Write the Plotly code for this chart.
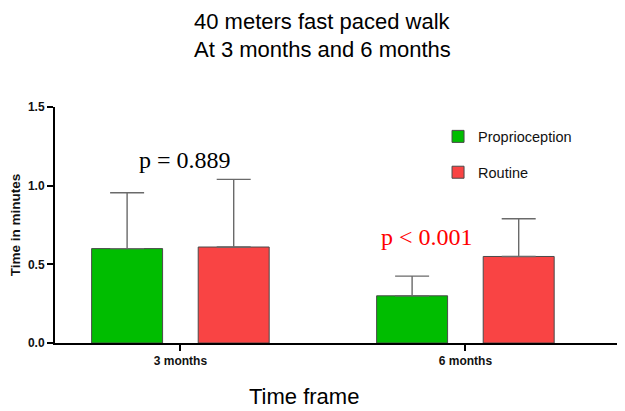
import plotly.graph_objects as go

groups = [0, 1]
group_labels = ["3 months", "6 months"]
proprio_mean = [0.60, 0.30]
proprio_err = [0.355, 0.125]
routine_mean = [0.61, 0.55]
routine_err = [0.43, 0.24]
y_ticks = [0.0, 0.5, 1.0, 1.5]

GREEN = "#00BD00"
RED = "#F94444"
FONT = "Liberation Sans"

fig = go.Figure()
fig.add_trace(go.Bar(
    x=groups, y=proprio_mean, name="Proprioception", legendgroup="a",
    width=0.249, offset=-0.3115,
    marker=dict(color=GREEN, line=dict(color="#4a4a4a", width=1)),
    error_y=dict(type="data", array=proprio_err, arrayminus=[0, 0], symmetric=False,
                 color="#6a6a6a", thickness=1.4, width=17),
))
fig.add_trace(go.Bar(
    x=groups, y=routine_mean, name="Routine", legendgroup="b",
    width=0.249, offset=0.0625,
    marker=dict(color=RED, line=dict(color="#4a4a4a", width=1)),
    error_y=dict(type="data", array=routine_err, arrayminus=[0, 0], symmetric=False,
                 color="#6a6a6a", thickness=1.4, width=17),
))

# page body has an 8px default margin, so the figure is sized to fill the rest
fig.update_layout(
    width=617, height=403,
    margin=dict(l=47, r=0, t=99, b=68, autoexpand=False),
    plot_bgcolor="white", paper_bgcolor="white",
    font=dict(family=FONT, color="black"),
    showlegend=True,
    legend=dict(x=0.672, y=0.943, xanchor="left", yanchor="top",
                font=dict(size=14.5, family=FONT, color="#111"),
                tracegroupgap=14, bgcolor="rgba(0,0,0,0)"),
    xaxis=dict(range=[-0.44, 1.56], tickvals=groups, ticktext=group_labels,
               showline=True, linecolor="black", linewidth=2,
               ticks="outside", ticklen=6, tickwidth=2, tickcolor="black",
               showgrid=False, zeroline=False, automargin=False,
               tickfont=dict(size=12, family=FONT, weight="bold", color="#111")),
    yaxis=dict(range=[0, 1.5], tickvals=y_ticks, tickformat=".1f",
               showline=True, linecolor="black", linewidth=2,
               ticks="outside", ticklen=6, tickwidth=2, tickcolor="black",
               showgrid=False, zeroline=False, automargin=False,
               tickfont=dict(size=12, family=FONT, weight="bold", color="#111"),
               title=dict(text="Time in minutes", standoff=6,
                          font=dict(size=13.5, family=FONT, weight="bold", color="#111"))),
)

# Titles (positions relative to the plot area)
fig.add_annotation(text="40 meters fast paced walk", xref="paper", yref="paper",
                   x=(322 - 55) / 570, y=(343 - 21.5) / 236, xanchor="center", yanchor="middle",
                   showarrow=False, font=dict(size=22, family=FONT, color="black"))
fig.add_annotation(text="At 3 months and 6 months", xref="paper", yref="paper",
                   x=(322 - 55) / 570, y=(343 - 49.5) / 236, xanchor="center", yanchor="middle",
                   showarrow=False, font=dict(size=22, family=FONT, color="black"))
fig.add_annotation(text="Time frame", xref="paper", yref="paper",
                   x=(303.5 - 55) / 570, y=(343 - 396) / 236, xanchor="center", yanchor="middle",
                   showarrow=False, font=dict(size=22, family=FONT, color="black"))

# p-values
fig.add_annotation(text="p = 0.889", x=0.016, y=1.163, xref="x", yref="y",
                   showarrow=False, font=dict(size=24, family="Liberation Serif", color="black"))
fig.add_annotation(text="p < 0.001", x=0.866, y=0.676, xref="x", yref="y",
                   showarrow=False, font=dict(size=24, family="Liberation Serif", color="red"))

fig.write_html("out.html")
